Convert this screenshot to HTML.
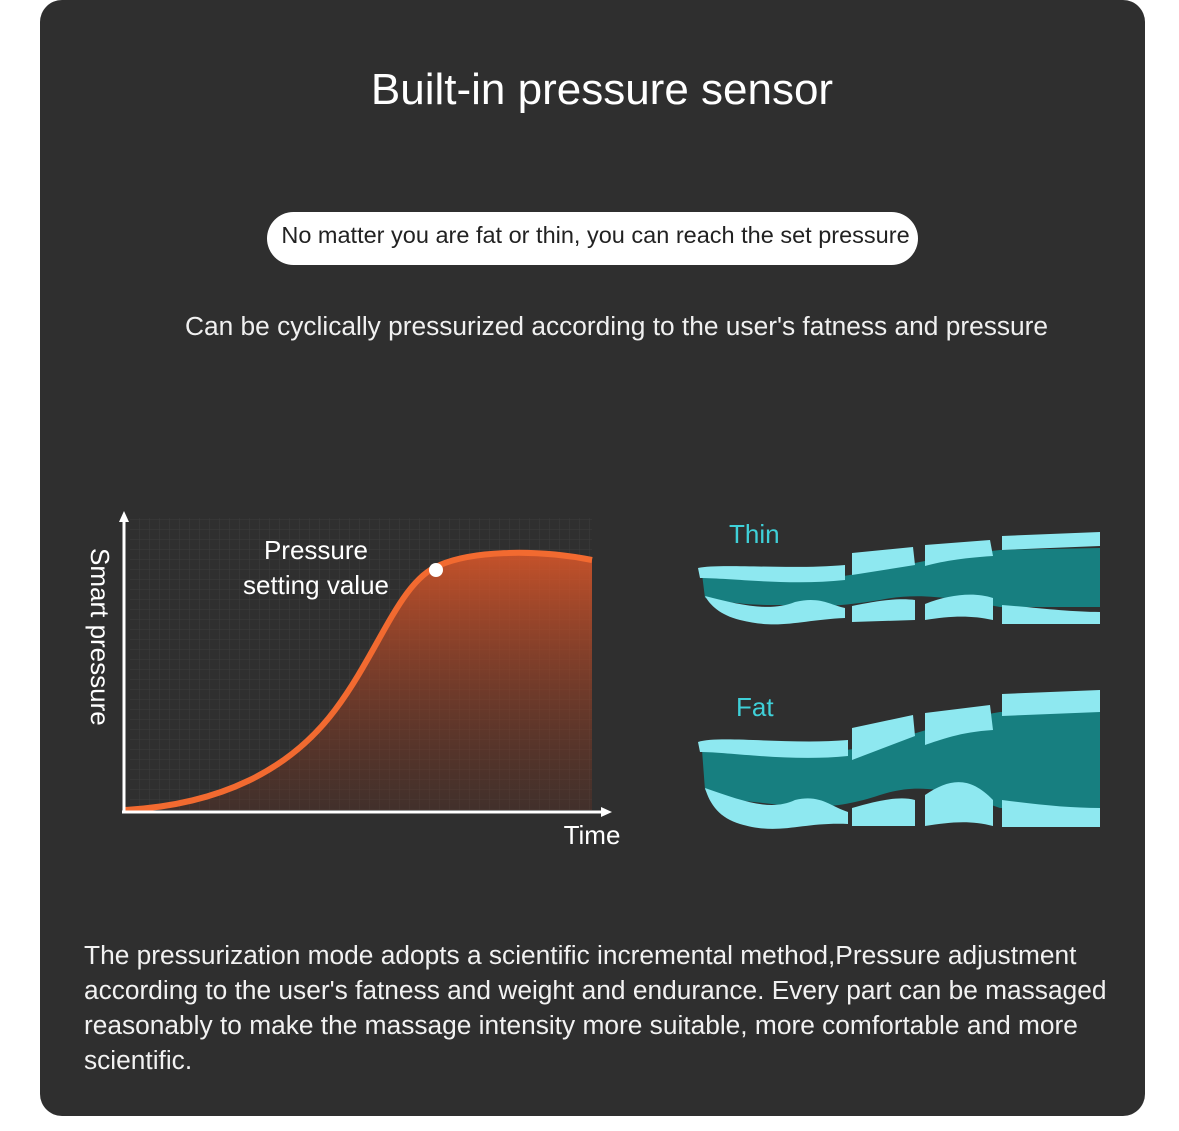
<!DOCTYPE html>
<html><head><meta charset="utf-8"><style>
body{margin:0;width:1179px;height:1131px;background:#fff;position:relative;overflow:hidden;font-family:"Liberation Sans",Arial,sans-serif}
.card{position:absolute;left:40px;top:0;width:1105px;height:1116px;background:#2f2f2f;border-radius:22px}
.t{position:absolute;color:#fff;white-space:nowrap}
</style></head><body>
<div class="card"></div>
<div class="t" style="left:0;width:1204px;text-align:center;top:65px;font-size:44px">Built-in pressure sensor</div>
<div style="position:absolute;left:267px;top:212px;width:651px;height:53px;border-radius:27px;background:#fff"></div>
<div class="t" style="left:270px;width:651px;text-align:center;top:222px;font-size:23.5px;color:#222">No matter you are fat or thin, you can reach the set pressure</div>
<div class="t" style="left:0;width:1233px;text-align:center;top:311px;font-size:26.3px;color:#f0f0f0">Can be cyclically pressurized according to the user's fatness and pressure</div>
<svg style="position:absolute;left:0;top:0" width="1179" height="1131">
<defs>
<pattern id="g" width="10" height="10" patternUnits="userSpaceOnUse"><path d="M10 0V10H0" fill="none" stroke="#3c3c3c" stroke-width="1"/></pattern>
<linearGradient id="o" x1="0" y1="0" x2="0" y2="1"><stop offset="0" stop-color="#e0582a" stop-opacity=".85"/><stop offset="1" stop-color="#7a3420" stop-opacity=".25"/></linearGradient>
</defs>
<rect x="130" y="518" width="462" height="292" fill="url(#g)"/>
<path d="M124 810 C220 805 290 770 335 710 C380 650 400 580 440 565 C470 552 530 548 592 560 L592 810 Z" fill="url(#o)"/>
<path d="M124 810 C220 805 290 770 335 710 C380 650 400 580 440 565 C470 552 530 548 592 560" fill="none" stroke="#f26a30" stroke-width="6"/>
<circle cx="436" cy="570" r="7" fill="#fff"/>
<path d="M124 813V518" stroke="#fff" stroke-width="3"/><path d="M119 522L124 511L129 522Z" fill="#fff"/>
<path d="M122 812H604" stroke="#fff" stroke-width="3"/><path d="M601 807L612 812L601 817Z" fill="#fff"/>
<text x="316" y="559" fill="#fff" font-size="26" text-anchor="middle" font-family="Liberation Sans">Pressure</text>
<text x="316" y="594" fill="#fff" font-size="26" text-anchor="middle" font-family="Liberation Sans">setting value</text>
<text x="592" y="844" fill="#fff" font-size="26" text-anchor="middle" font-family="Liberation Sans">Time</text>
<text transform="translate(91,548) rotate(90)" fill="#fff" font-size="26" font-family="Liberation Sans">Smart pressure</text>
<text x="729" y="543" fill="#3fd0d8" font-size="26" font-family="Liberation Sans">Thin</text>
<text x="736" y="716" fill="#3fd0d8" font-size="26" font-family="Liberation Sans">Fat</text>
<g>
<path d="M702 574 C760 578 820 580 850 575 C890 568 950 555 1000 550 L1100 548 L1100 607 L1000 607 C950 598 920 592 880 600 C850 605 820 608 780 605 C760 605 740 605 705 598 Z" fill="#177f80"/>
<path d="M698 568 C720 563 790 570 845 565 L845 580 C790 586 730 578 700 578 Z" fill="#8ee8f0"/>
<path d="M705 596 C740 605 770 612 795 602 C820 596 830 605 845 608 L845 618 C800 620 780 630 740 620 C720 615 710 605 705 596Z" fill="#8ee8f0"/>
<path d="M852 553 L913 547 L915 565 L852 575Z" fill="#8ee8f0"/>
<path d="M852 606 C880 600 900 598 915 600 L915 620 L852 622Z" fill="#8ee8f0"/>
<path d="M925 545 L990 540 L993 556 C960 558 940 562 925 566Z" fill="#8ee8f0"/>
<path d="M925 604 C950 594 975 592 993 598 L993 620 C970 615 950 616 925 620Z" fill="#8ee8f0"/>
<path d="M1002 536 L1100 532 L1100 546 L1002 550Z" fill="#8ee8f0"/>
<path d="M1002 605 C1040 608 1070 612 1100 612 L1100 624 L1002 624Z" fill="#8ee8f0"/>
</g>
<g>
<path d="M702 750 C760 752 820 755 860 748 C900 740 950 720 1000 712 L1100 710 L1100 808 L1000 808 C950 790 920 782 880 795 C850 805 820 810 780 805 C740 800 720 800 705 790 Z" fill="#177f80"/>
<path d="M698 742 C720 735 790 745 848 740 L848 756 C790 762 730 752 700 752 Z" fill="#8ee8f0"/>
<path d="M705 788 C740 800 770 812 795 800 C820 794 830 806 848 812 L848 824 C800 822 780 836 740 824 C720 818 710 805 705 788Z" fill="#8ee8f0"/>
<path d="M852 728 L913 715 L915 736 L852 760Z" fill="#8ee8f0"/>
<path d="M852 808 C880 800 900 796 915 800 L915 826 L852 826Z" fill="#8ee8f0"/>
<path d="M925 713 L990 705 L993 730 C960 732 940 740 925 745Z" fill="#8ee8f0"/>
<path d="M925 795 C950 778 970 776 993 800 L993 826 C970 820 950 822 925 826Z" fill="#8ee8f0"/>
<path d="M1002 694 L1100 690 L1100 712 L1002 716Z" fill="#8ee8f0"/>
<path d="M1002 800 C1040 805 1070 808 1100 808 L1100 827 L1002 827Z" fill="#8ee8f0"/>
</g>
</svg>
<div class="t" style="left:84px;top:938px;font-size:26.3px;line-height:35px;white-space:nowrap;color:#f2f2f2">The pressurization mode adopts a scientific incremental method,Pressure adjustment<br>according to the user's fatness and weight and endurance. Every part can be massaged<br>reasonably to make the massage intensity more suitable, more comfortable and more<br>scientific.</div>
</body></html>
